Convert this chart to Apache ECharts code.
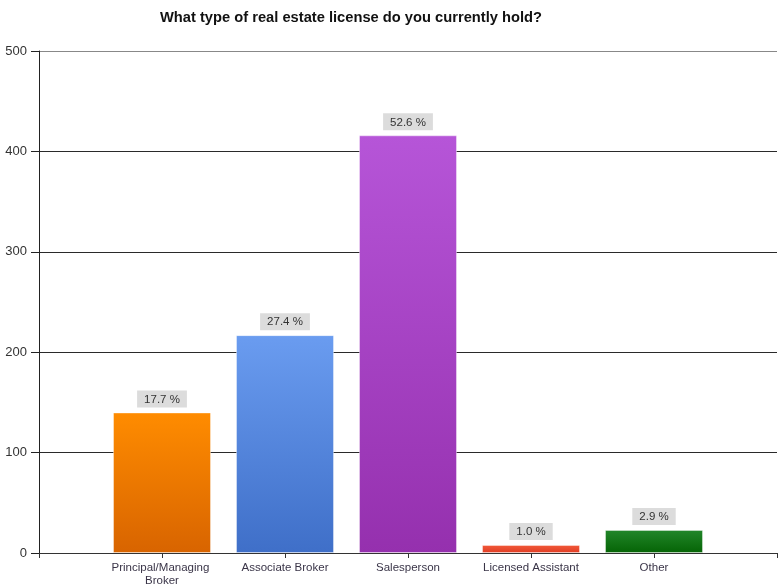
<!DOCTYPE html>
<html>
<head>
<meta charset="utf-8">
<script src="https://cdn.jsdelivr.net/npm/echarts@6/dist/echarts.min.js"></script>
<style>
  html, body { margin: 0; padding: 0; background: #fff; }
  #chart { width: 780px; height: 586px; }
</style>
</head>
<body>
<div id="chart"></div>
<script>
// Survey answers: license type held
const categories = ['Principal/Managing Broker', 'Associate Broker', 'Salesperson', 'Licensed Assistant', 'Other'];
const counts = [140, 217, 416, 8, 23];
const percentLabels = ['17.7 %', '27.4 %', '52.6 %', '1.0 %', '2.9 %'];
const yTicks = [0, 100, 200, 300, 400, 500];

// top / bottom colours of each bar's vertical gradient
const barColors = [
  ['#ff8c00', '#d86400'],
  ['#6a9cf0', '#3f6fc8'],
  ['#b655d8', '#9530ae'],
  ['#f25a3a', '#e03c24'],
  ['#22862a', '#056405']
];

// the axis runs one empty slot before and after the answers
const axisCats = [''].concat(categories, ['']);

const seriesData = [{ value: null }].concat(counts.map((v, i) => ({
  value: v,
  itemStyle: {
    color: new echarts.graphic.LinearGradient(0, 0, 0, 1, [
      { offset: 0, color: barColors[i][0] },
      { offset: 1, color: barColors[i][1] }
    ]),
    borderColor: 'rgba(255,255,255,0.4)',
    borderWidth: 1
  },
  label: { formatter: percentLabels[i] }
})), [{ value: null }]);

// dark gridlines, the top one lighter
const gridColors = yTicks.map((t, i) => (i === yTicks.length - 1 ? '#888' : '#2a2a2a'));

const chart = echarts.init(document.getElementById('chart'), null, { renderer: 'canvas' });
chart.setOption({
  animation: false,
  title: {
    text: 'What type of real estate license do you currently hold?',
    left: 155,
    top: 5,
    textStyle: { fontFamily: 'Liberation Sans', fontSize: 14.7, fontWeight: 'bold', color: '#111' }
  },
  grid: { left: 39, right: 3, top: 51, bottom: 33, containLabel: false, outerBoundsMode: 'none' },
  xAxis: {
    type: 'category',
    data: axisCats,
    boundaryGap: false,
    axisLine: { lineStyle: { color: '#333', width: 1 } },
    axisTick: { show: true, length: 5, lineStyle: { color: '#333' } },
    axisLabel: {
      interval: 0,
      margin: 8,
      fontFamily: 'Liberation Sans',
      fontSize: 11.5,
      color: '#3a3548',
      width: 110,
      overflow: 'break',
      lineHeight: 13
    },
    splitLine: { show: false }
  },
  yAxis: {
    type: 'value',
    min: yTicks[0],
    max: yTicks[yTicks.length - 1],
    interval: 100,
    axisLine: { show: true, lineStyle: { color: '#222', width: 1 } },
    axisTick: { show: true, length: 8, lineStyle: { color: '#222' } },
    axisLabel: { fontFamily: 'Liberation Sans', fontSize: 13, color: '#333', margin: 12 },
    splitLine: { show: true, lineStyle: { color: gridColors, width: 1 } }
  },
  series: [{
    type: 'bar',
    data: seriesData,
    barWidth: 98,
    label: {
      show: true,
      position: 'top',
      distance: 5,
      fontFamily: 'Liberation Sans',
      fontSize: 11.5,
      color: '#333',
      backgroundColor: '#dcdcdc',
      padding: [3, 7, 2, 7]
    }
  }]
});
</script>
</body>
</html>
